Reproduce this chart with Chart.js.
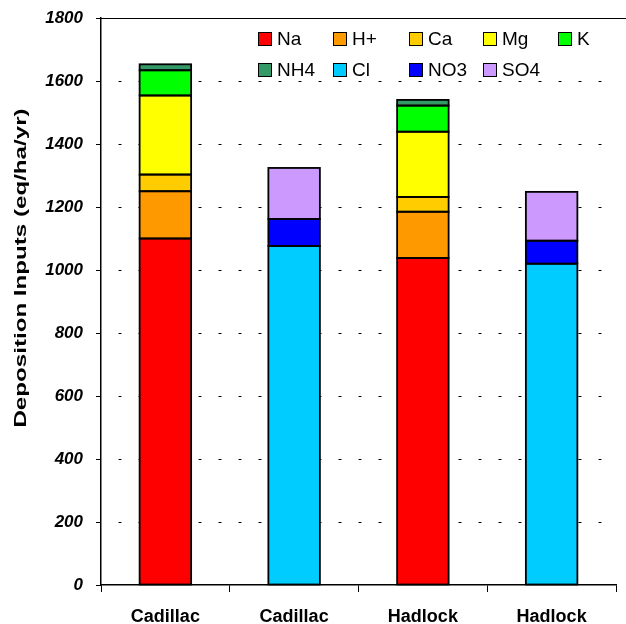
<!DOCTYPE html>
<html>
<head>
<meta charset="utf-8">
<script src="https://cdn.jsdelivr.net/npm/chart.js@4/dist/chart.umd.min.js"></script>
<style>
  html, body { margin: 0; padding: 0; background: #fff; }
  #wrap { width: 626px; height: 624px; position: relative; }
</style>
</head>
<body>
<div id="wrap"><canvas id="c"></canvas></div>
<script>
// Sites (cation bar, then anion bar for each site)
const categories = ['Cadillac', 'Cadillac', 'Hadlock', 'Hadlock'];

// Y axis tick values (eq/ha/yr)
const yTickValues = [0, 200, 400, 600, 800, 1000, 1200, 1400, 1600, 1800];

// Cations
const na    = [1100, null, 1038, null];
const hplus = [150, null, 147, null];
const ca    = [53, null, 47, null];
const mg    = [251, null, 207, null];
const k     = [80, null, 83, null];
const nh4   = [19, null, 18, null];
// Anions
const cl    = [null, 1076, null, 1020];
const no3   = [null, 86, null, 73];
const so4   = [null, 162, null, 155];

const seriesNames  = ['Na', 'H+', 'Ca', 'Mg', 'K', 'NH4', 'Cl', 'NO3', 'SO4'];
const seriesValues = [na, hplus, ca, mg, k, nh4, cl, no3, so4];
const seriesColors = ['#FF0000', '#FF9900', '#FFCC00', '#FFFF00', '#00FF00',
                      '#339966', '#00CCFF', '#0000FF', '#CC99FF'];

const yTitle = 'Deposition Inputs (eq/ha/yr)';
const FONT = '"Liberation Sans", Arial, sans-serif';

const datasets = seriesNames.map((name, i) => ({
  label: name,
  data: seriesValues[i],
  backgroundColor: seriesColors[i],
  borderWidth: 0,
  inflateAmount: 0,
  categoryPercentage: 1.0,
  barPercentage: 0.4
}));

// Black outline around every bar segment, using the geometry computed by the bar controller
const segmentOutlines = {
  id: 'segmentOutlines',
  afterDatasetsDraw(chart) {
    const ctx = chart.ctx;
    ctx.save();
    ctx.strokeStyle = '#000';
    ctx.lineWidth = 1.8;
    chart.data.datasets.forEach((ds, i) => {
      const meta = chart.getDatasetMeta(i);
      meta.data.forEach((bar, j) => {
        if (ds.data[j] == null) return;
        const p = bar.getProps(['x', 'y', 'base', 'width'], true);
        const left = p.x - p.width / 2;
        const top = Math.min(p.y, p.base);
        const h = Math.abs(p.base - p.y);
        ctx.strokeRect(left, top, p.width, h);
      });
    });
    ctx.restore();
  }
};

// Two-row legend drawn at fixed columns
const gridLegend = {
  id: 'gridLegend',
  afterDraw(chart) {
    const ctx = chart.ctx;
    const area = chart.chartArea;
    const colX = [157, 232, 308, 382, 457].map(v => area.left + v);
    const rowY = [area.top + 21, area.top + 52];
    ctx.save();
    ctx.font = '19px ' + FONT;
    ctx.textBaseline = 'middle';
    ctx.textAlign = 'left';
    chart.data.datasets.forEach((ds, i) => {
      const row = i < 5 ? 0 : 1;
      const col = i < 5 ? i : i - 5;
      const x = colX[col], y = rowY[row];
      ctx.fillStyle = ds.backgroundColor;
      ctx.fillRect(x, y - 7, 14, 14);
      ctx.strokeStyle = '#000';
      ctx.lineWidth = 1;
      ctx.strokeRect(x + 0.5, y - 6.5, 13, 13);
      ctx.fillStyle = '#000';
      ctx.fillText(ds.label, x + 19, y + 1);
    });
    ctx.restore();
  }
};

// Solid top edge of the plot area and the rotated y axis title
const frameAndTitle = {
  id: 'frameAndTitle',
  afterDraw(chart) {
    const ctx = chart.ctx;
    const area = chart.chartArea;
    ctx.save();
    ctx.strokeStyle = '#000';
    ctx.lineWidth = 1;
    ctx.beginPath();
    ctx.moveTo(area.left - 5, Math.round(area.top) + 0.5);
    ctx.lineTo(chart.width, Math.round(area.top) + 0.5);
    ctx.stroke();

    ctx.translate(21, 268);
    ctx.rotate(-Math.PI / 2);
    ctx.scale(1.42, 1);
    ctx.font = 'bold 17px ' + FONT;
    ctx.fillStyle = '#000';
    ctx.textAlign = 'center';
    ctx.textBaseline = 'middle';
    ctx.fillText(yTitle, 0, 0);
    ctx.restore();
  }
};

new Chart(document.getElementById('c'), {
  type: 'bar',
  data: { labels: categories, datasets },
  options: {
    responsive: true,
    maintainAspectRatio: false,
    animation: false,
    layout: { padding: { left: 0, top: 18, right: 10, bottom: 0 } },
    plugins: {
      legend: { display: false },
      tooltip: { enabled: false }
    },
    scales: {
      x: {
        stacked: true,
        grid: {
          offset: true,
          drawOnChartArea: false,
          drawTicks: true,
          tickLength: 7,
          tickColor: '#000',
          tickWidth: 1
        },
        border: { display: true, color: '#000', width: 1.5 },
        ticks: {
          color: '#000',
          padding: 14,
          font: { family: FONT, size: 18, weight: 'bold' }
        },
        afterFit(scale) { scale.height = 39; }
      },
      y: {
        stacked: true,
        min: 0,
        max: 1800,
        afterBuildTicks(scale) { scale.ticks = yTickValues.map(v => ({ value: v })); },
        grid: {
          color: (c) => (c.tick && (c.tick.value === 0 || c.tick.value === 1800)) ? 'rgba(0,0,0,0)' : '#000',
          lineWidth: 1,
          drawTicks: true,
          tickLength: 5,
          tickColor: '#000',
          tickWidth: 1,
          tickBorderDash: []
        },
        border: { display: true, color: '#000', width: 1.5, dash: [3, 17], dashOffset: 3 },
        ticks: {
          color: '#000',
          padding: 13,
          callback: (v) => String(v),
          font: { family: FONT, size: 17, weight: 'bold', style: 'italic' }
        },
        title: { display: false },
        afterFit(scale) {
          scale.width = 101;
          scale.paddingTop = 0;
          scale.paddingBottom = 0;
        }
      }
    }
  },
  plugins: [segmentOutlines, gridLegend, frameAndTitle]
});
</script>
</body>
</html>
